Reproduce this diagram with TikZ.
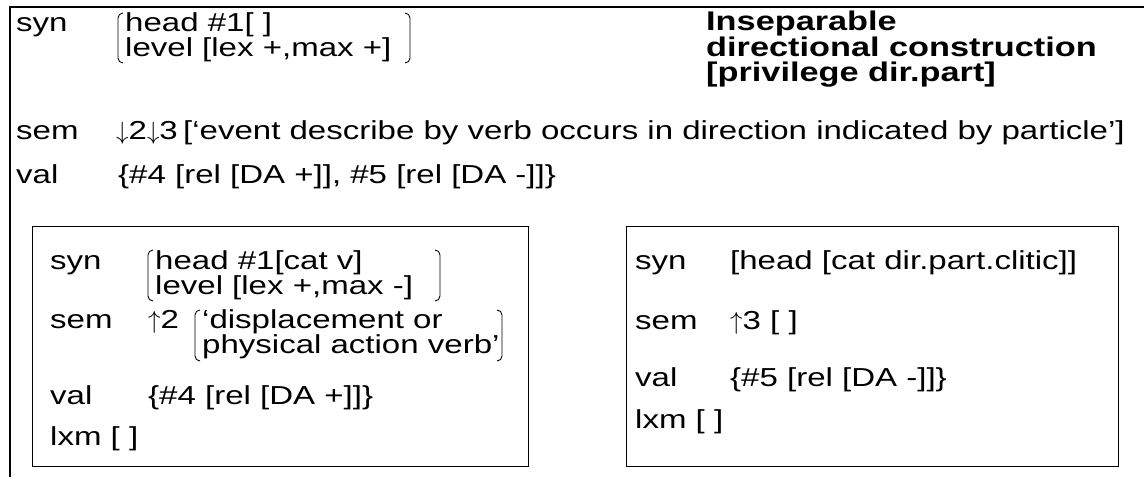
\documentclass[tikz,border=0pt]{standalone}
\usepackage{fontspec}
\setmainfont{Liberation Sans}[FakeStretch=1.27]
\usetikzlibrary{positioning}

% thin index arrows
\newcommand{\dnarr}{$\downarrow$}
\newcommand{\uparr}{$\uparrow$}

\begin{document}
\begin{tikzpicture}[
    x=1pt, y=-1pt,
    % text styles
    feat/.style={
        anchor=base west,
        inner sep=0pt,
        font=\fontsize{26}{24}\selectfont
    },
    heading/.style={
        anchor=north west,
        inner sep=0pt,
        align=left,
        font=\fontsize{27}{25}\selectfont\bfseries
    },
    % frames and brackets
    frame/.style={draw, line width=1.2pt},
    innerframe/.style={draw, line width=1pt},
    brk/.style={draw, line width=0.9pt, rounded corners=5pt}
]
\useasboundingbox (0,0) rectangle (1144,477);

% outer frame (open at the right and bottom)
\draw[frame] (1144,7) -- (10,7) -- (10,477);

% construction: syn
\node[feat] (syn) at (16,31) {syn};
\node[feat] (head) at (125,31) {head \#1[ ]};
\node[feat] (level) at (125,56) {level [lex +,max +]};
\draw[brk] (123,13) -- (118,13) -- (118,63) -- (123,63);
\draw[brk] (405,13) -- (410,13) -- (410,63) -- (405,63);

% construction name
\node[heading] (name) at (706,11) {Inseparable\\directional construction\\{}[privilege dir.part]};

% construction: sem, val
\node[feat] (sem) at (16,139) {sem};
\node[feat] (semidx) at (116,139) {\dnarr2\dnarr3};
\node[feat] (semval) at (183,139) {[‘event describe by verb occurs in direction indicated by particle’]};
\node[feat] (val) at (16,183) {val};
\node[feat] (valset) at (118,183) {\{\#4 [rel [DA +]], \#5 [rel [DA -]]\}};

% verb box
\draw[innerframe] (32,226) rectangle (528,466);
\node[feat] (vsyn) at (50,269) {syn};
\node[feat] (vhead) at (155,269) {head \#1[cat v]};
\node[feat] (vlevel) at (155,294) {level [lex +,max -]};
\draw[brk] (153,250) -- (148,250) -- (148,301) -- (153,301);
\draw[brk] (435,250) -- (440,250) -- (440,301) -- (435,301);
\node[feat] (vsem) at (50,328) {sem};
\node[feat] (vsemidx) at (148,328) {\uparr2};
\node[feat] (vdisp) at (202,328) {‘displacement or};
\node[feat] (vphys) at (202,353) {physical action verb’};
\draw[brk] (200,310) -- (195,310) -- (195,361) -- (200,361);
\draw[brk] (497,310) -- (502,310) -- (502,361) -- (497,361);
\node[feat] (vval) at (50,404) {val};
\node[feat] (vvalset) at (148,404) {\{\#4 [rel [DA +]]\}};
\node[feat] (vlxm) at (50,445) {lxm [ ]};

% particle box
\draw[innerframe] (626,226) rectangle (1118,466);
\node[feat] (psyn) at (635,269) {syn};
\node[feat] (phead) at (730,269) {[head [cat dir.part.clitic]]};
\node[feat] (psem) at (635,329) {sem};
\node[feat] (psemidx) at (730,329) {\uparr3 [ ]};
\node[feat] (pval) at (635,386) {val};
\node[feat] (pvalset) at (730,386) {\{\#5 [rel [DA -]]\}};
\node[feat] (plxm) at (635,428) {lxm [ ]};

\end{tikzpicture}
\end{document}
